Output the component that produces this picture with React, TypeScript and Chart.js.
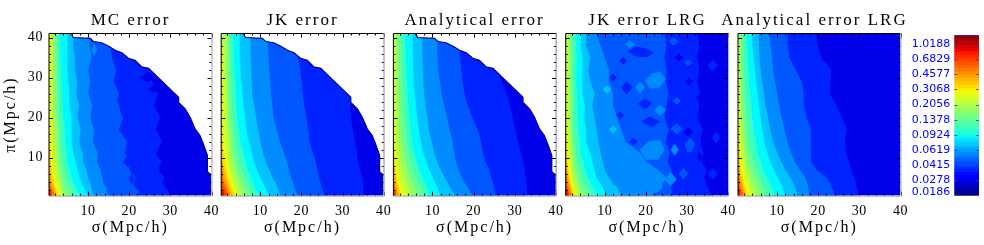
import React, { useEffect, useRef } from "react";
import { Chart, registerables } from "chart.js";

Chart.register(...registerables);

const PANEL_TITLES = ["MC error", "JK error", "Analytical error", "JK error LRG", "Analytical error LRG"];
const PANEL_LEFTS = [49, 221.2, 393.4, 565.7, 738];
const TITLE_SHIFTS = [0, 0, 0, 0, -5];
const PANEL_WIDTH = 162.5;
const TOP = 33.5;
const BOTTOM = 195.7;
const MAJOR_TICKS = [10, 20, 30, 40];
const MINOR_TICKS = [2, 4, 6, 8, 12, 14, 16, 18, 22, 24, 26, 28, 32, 34, 36, 38];

// pi samples (Mpc/h), bottom to top, shared by every contour row below
const PI = [0.5, 1.5, 2.5, 3.5, 5, 7, 9, 11, 14, 17, 20, 23, 26, 29, 32, 35, 38, 41];

const BASE_COLOR = "#0000eb";
const BAND_COLORS = [
  "#0022ff", "#0057ff", "#008cff", "#00c3ff", "#00f8ff", "#3affbd", "#66ff92", "#91ff66",
  "#bcff3a", "#e6ff10", "#ffd500", "#ffa300", "#ff7000", "#ff4000", "#f00e00", "#be0000",
];

// sigma of each contour at the pi samples, outermost level first
const MC_CONTOURS = [
  [30, 29.5, 29, 28, 28.5, 27, 27.8, 26.5, 28, 26.5, 27.5, 26, 27, 25.5, 26, 24.5, 25.5, 25],
  [22, 22.5, 21.5, 21, 21.5, 20, 20.5, 19, 19.5, 17.5, 18.5, 16.8, 17.5, 16.2, 16.8, 15.8, 15.5, 15.5],
  [15, 14.5, 14.5, 13.8, 13.5, 13, 12.2, 12.4, 11.2, 11.5, 10.5, 11, 10, 10.5, 10, 10.8, 10.3, 10.5],
  [11.5, 11.2, 10.8, 10.6, 10, 9.6, 8.8, 8.7, 7.8, 8.2, 7.4, 7.8, 7.1, 7.4, 6.8, 6.8, 6.4, 6.6],
  [10, 9.5, 9, 8.5, 8, 7.5, 7, 6.5, 6, 6, 6, 5.5, 5.5, 5.2, 5, 5, 5, 5],
  [8, 7.5, 7, 6.5, 6, 5.5, 5, 4.8, 4.5, 4.3, 4, 3.8, 3.7, 3.5, 3.5, 3.3, 3.2, 3.2],
  [6.5, 6, 5.5, 5, 4.6, 4.2, 3.8, 3.6, 3.3, 3.2, 3, 2.9, 2.8, 2.6, 2.6, 2.5, 2.5, 2.4],
  [5.2, 4.7, 4.3, 4, 3.6, 3.3, 3, 2.8, 2.6, 2.5, 2.3, 2.2, 2.2, 2.1, 2, 2, 1.9, 1.9],
  [4.2, 3.8, 3.4, 3.2, 2.9, 2.6, 2.4, 2.2, 2, 1.9, 1.8, 1.7, 1.6, 1.6, 1.5, 1.5, 1.5, 1.4],
  [3.5, 3.1, 2.8, 2.5, 2.2, 1.9, 1.7, 1.6, 1.4, 1.3, 1.2, 1.2, 1.1, 1.1, 1, 1, 1, 1],
  [2.9, 2.6, 2.2, 1.9, 1.6, 1.2, 1, 0.9, 0.7, 0.6],
  [2.4, 2.1, 1.7, 1.3, 1, 0.7, 0.6],
  [1.9, 1.6, 1.2, 0.8, 0.6],
  [1.5, 1.1, 0.7, 0.6],
  [1.1, 0.7, 0.6],
  [0.8, 0.6],
];

const JK_CONTOURS = [
  [35.4, 35.2, 35, 35, 34.8, 34.2, 33.8, 33.5, 33, 32.5, 32, 31.8, 32, 34, 34, 34, 34, 34],
  [25.7, 25.3, 25, 24.7, 24.3, 23.9, 23.5, 22.8, 22, 21.7, 21.2, 20.7, 20.3, 20, 19.7, 19.2, 19, 19],
  [19.2, 18.8, 18.4, 18, 17.5, 17, 16.5, 15.8, 14.8, 14, 13.2, 12.9, 12.6, 12.4, 12.2, 12, 11.9, 11.8],
  [15, 14.6, 14.2, 13.8, 13, 12.2, 11.3, 10.7, 10, 9.5, 9, 8.5, 8, 7.9, 7.8, 7.7, 7.6, 7.6],
  [12.2, 11.7, 11.2, 10.8, 10, 9.2, 8.5, 8, 7.2, 6.6, 6.3, 6, 5.7, 5.4, 5.2, 5.1, 5, 5],
  [9.7, 9.2, 8.7, 8.3, 7.7, 6.9, 6.4, 5.9, 5.2, 4.8, 4.4, 4.2, 4, 3.9, 3.7, 3.6, 3.5, 3.4],
  [8.2, 7.8, 7.3, 6.9, 6.2, 5.5, 4.9, 4.4, 4, 3.6, 3.3, 3.1, 3, 2.9, 2.8, 2.7, 2.6, 2.6],
  [6.8, 6.4, 6, 5.6, 5, 4.3, 3.8, 3.5, 3.1, 2.8, 2.6, 2.5, 2.3, 2.2, 2.1, 2.1, 2, 2],
  [5.5, 5.2, 4.8, 4.4, 3.8, 3.3, 2.9, 2.6, 2.3, 2.1, 2, 1.9, 1.8, 1.7, 1.6, 1.5, 1.5, 1.5],
  [4.7, 4.3, 3.9, 3.5, 3, 2.5, 2.2, 1.9, 1.6, 1.4, 1.3, 1.2, 1.1, 1.1, 1, 1, 1],
  [3.9, 3.5, 3.1, 2.7, 2.2, 1.8, 1.4, 1.1, 0.8, 0.7, 0.6],
  [3.2, 2.8, 2.4, 2, 1.6, 1.2, 0.8, 0.6],
  [2.6, 2.2, 1.8, 1.4, 1, 0.7],
  [2, 1.7, 1.3, 0.9, 0.6],
  [1.4, 1.1, 0.7],
  [1, 0.7],
];

const AN_CONTOURS = [
  [33, 33, 33, 32.8, 32.6, 32.4, 32, 31.5, 30.8, 30.1, 29.5, 28.9, 28, 26.8, 25.5, 34, 34, 34],
  [25.4, 25.2, 25, 24.8, 24.3, 23.8, 22.9, 22.3, 21.8, 21, 19.7, 18.6, 17.8, 17.2, 17, 16.7, 16.5, 16.5],
  [19.6, 19.2, 18.6, 18, 17.2, 16.3, 15.7, 15.3, 14.9, 14.2, 13.5, 12.8, 12.2, 11.8, 11.4, 11.2, 11.2, 11.2],
  [15.5, 14.9, 14.3, 13.8, 13, 12, 11.1, 10.5, 9.8, 9.1, 8.7, 8.3, 8, 7.8, 7.7, 7.6, 7.5, 7.5],
  [12, 11.6, 11.2, 10.8, 10.1, 9.2, 8.5, 7.8, 7.2, 6.7, 6.3, 6, 5.7, 5.5, 5.4, 5.3, 5.2, 5.2],
  [9.5, 9.1, 8.7, 8.3, 7.6, 6.8, 6.2, 5.6, 5, 4.7, 4.4, 4.2, 4, 3.8, 3.7, 3.5, 3.4, 3.3],
  [8, 7.6, 7.2, 6.8, 6.1, 5.4, 4.8, 4.3, 3.8, 3.5, 3.2, 3, 2.9, 2.7, 2.6, 2.5, 2.5, 2.4],
  [6.5, 6.1, 5.7, 5.3, 4.6, 4, 3.5, 3.1, 2.7, 2.4, 2.2, 2.1, 2, 1.9, 1.8, 1.7, 1.7, 1.6],
  [5, 4.6, 4.2, 3.8, 3.3, 2.8, 2.4, 2.1, 1.8, 1.6, 1.5, 1.4, 1.3, 1.3, 1.2, 1.2, 1.1, 1.1],
  [3.6, 3.2, 2.8, 2.5, 2.1, 1.7, 1.5, 1.3, 1.1, 0.95, 0.85, 0.8, 0.75, 0.7, 0.7, 0.6, 0.6],
  [2.6, 2.2, 1.9, 1.6, 1.3, 1.1, 0.9, 0.7, 0.6],
  [1.9, 1.6, 1.4, 1.2, 1, 0.8, 0.6],
  [1.4, 1.2, 1, 0.8, 0.6],
  [1, 0.9, 0.7, 0.6],
  [0.8, 0.7, 0.6],
];

const JK_LRG_CONTOURS = [
  [36, 35.5, 35, 34.7, 34.2, 34.8, 33.5, 34, 33.2, 33.8, 32.5, 33, 33.2, 32.5, 33, 32.5, 33, 32.5],
  [26, 26.5, 26, 26.3, 25.5, 26.3, 25.2, 25.8, 24.8, 25.5, 24.5, 25, 25.5, 24.8, 25, 24.5, 25, 24.5],
  [21, 23, 24, 24, 25, 23, 20, 19, 15, 14, 13, 12, 12, 11, 11, 10, 9, 8],
  [14, 13.5, 13, 12, 11, 10, 9.5, 9, 8.5, 8, 7.5, 7, 7.5, 6.5, 6, 6.5, 5.5, 5.5],
  [10.2, 10, 9.5, 9, 8, 7.5, 7, 6.5, 5.5, 5.5, 5, 5.2, 4.5, 4.6, 4.5, 4.6, 4.2, 4.2],
  [8, 7.8, 7.2, 6.6, 6, 5.2, 4.8, 4.2, 4, 3.6, 3.4, 3.2, 3.4, 3, 3.1, 3.2, 3, 3],
  [6.5, 6.2, 5.5, 5, 4.5, 3.8, 3.4, 3, 2.8, 2.6, 2.5, 2.4, 2.4, 2.3, 2.2, 2.3, 2.2, 2.2],
  [5.2, 4.8, 4.2, 3.8, 3.4, 2.9, 2.6, 2.4, 2.2, 2, 1.9, 1.8, 1.8, 1.7, 1.7, 1.7, 1.6, 1.6],
  [4.2, 3.8, 3.3, 3, 2.6, 2.3, 2, 1.8, 1.6, 1.5, 1.4, 1.3, 1.3, 1.2, 1.2, 1.2, 1.1, 1.1],
  [3.5, 3.1, 2.6, 2.3, 2, 1.7, 1.5, 1.3, 1.1, 1, 0.95, 0.9, 0.85, 0.8, 0.8, 0.7, 0.7],
  [2.8, 2.5, 2.1, 1.8, 1.5, 1.2, 1, 0.9, 0.7, 0.6],
  [2.3, 2, 1.7, 1.4, 1.1, 0.9, 0.7],
  [1.9, 1.6, 1.3, 1, 0.8, 0.6],
  [1.5, 1.2, 0.9, 0.7],
  [1.1, 0.9, 0.6],
  [0.8, 0.6],
];

const AN_LRG_CONTOURS = [
  [29.7, 29.6, 29.4, 29.2, 28.8, 28, 27.5, 26.8, 26.5, 27, 25.7, 24.5, 22.8, 23, 23.2, 20.7, 19.9, 19.5],
  [24, 23.8, 23.3, 23, 22, 19.5, 18.3, 18.2, 18.2, 18.2, 17.2, 16.5, 16.5, 16, 14.5, 13, 12.6, 12.5],
  [17.8, 17.7, 17.5, 17.4, 16.8, 15.5, 14.3, 13.5, 12.5, 11.8, 11.1, 10.5, 10, 9.5, 9, 8.8, 8.4, 8.2],
  [15, 14.8, 14.4, 14, 13.2, 12, 11, 10.2, 9, 8.3, 7.8, 7.2, 6.8, 6.4, 6, 5.8, 5.6, 5.5],
  [12, 11.7, 11.3, 10.9, 10.2, 9.2, 8.4, 7.7, 6.9, 6.4, 6, 5.6, 5.3, 4.9, 4.6, 4.3, 4, 3.9],
  [9.2, 9, 8.6, 8.2, 7.5, 6.6, 6, 5.4, 4.8, 4.3, 4, 3.7, 3.4, 3.2, 3, 2.8, 2.7, 2.6],
  [7.5, 7.2, 6.8, 6.4, 5.7, 4.9, 4.3, 3.8, 3.3, 2.9, 2.7, 2.4, 2.2, 2.1, 2, 1.9, 1.8, 1.7],
  [6.1, 5.8, 5.4, 5, 4.4, 3.7, 3.2, 2.8, 2.4, 2.1, 1.9, 1.7, 1.6, 1.5, 1.4, 1.3, 1.3, 1.2],
  [4.9, 4.6, 4.2, 3.8, 3.3, 2.7, 2.3, 2, 1.7, 1.5, 1.3, 1.2, 1.1, 1, 0.95, 0.9, 0.9, 0.85],
  [3.9, 3.6, 3.2, 2.8, 2.4, 1.9, 1.6, 1.4, 1.2, 1, 0.9, 0.8, 0.75, 0.7, 0.65, 0.6],
  [3, 2.7, 2.4, 2, 1.7, 1.3, 1, 0.85, 0.7, 0.6],
  [2.4, 2.1, 1.8, 1.5, 1.2, 0.9, 0.7],
  [1.9, 1.6, 1.3, 1.1, 0.8, 0.6],
  [1.4, 1.2, 0.9, 0.7],
  [1, 0.8, 0.6],
  [0.7],
];

// isolated contour islands: band index (-1 = base colour), then sigma,pi pairs
const MC_ISLANDS = [
  [-1, 22.5, 30, 24.5, 31.5, 26.5, 30.2, 24.5, 28.8],
  [-1, 24.5, 27.1, 26, 28, 27.5, 27, 26, 26.2],
  [0, 18.5, 9, 19.4, 10.5, 20.8, 9, 19.8, 7.5],
  [0, 20, 4.8, 20.6, 6.3, 21.2, 4.8, 20.6, 3.3],
  [2, 10.8, 37, 11.5, 38.5, 12.2, 37, 11.5, 35.5],
  [1, 15.5, 25, 17.5, 23.5, 18, 21, 16.5, 19.5],
];
const JK_LRG_ISLANDS = [
  [2, 19.8, 29.2, 21.5, 31, 23.5, 31.5, 24.8, 29.5, 23.3, 27.5, 21, 27.2],
  [2, 22, 21.8, 23.4, 23.2, 24.8, 22, 23.6, 20.4],
  [2, 18.5, 12, 20.5, 14, 23.5, 14.5, 24.5, 12, 23, 9.5, 20, 9.5],
  [2, 15, 38.3, 16.1, 39.3, 17.3, 38.3, 16.1, 37.3],
  [2, 17.4, 27.5, 18.6, 29, 19.8, 27.5, 18.6, 26],
  [2, 24.5, 4.5, 26, 6.5, 27.5, 4.5, 26, 3],
  [2, 26, 12, 27, 13.5, 28, 12, 27, 10.5],
  [3, 11, 17, 12, 18, 13, 17, 12, 16],
  [3, 9.5, 27, 10.5, 28, 11.5, 27, 10.5, 26],
  [0, 15.5, 36.5, 17.5, 37.7, 20, 37.3, 22, 36.2, 20.2, 35, 17.5, 35.3],
  [0, 14, 27.5, 15.3, 29.2, 16.8, 27.5, 15.3, 25.8],
  [0, 18, 23.5, 19.8, 24.8, 21.5, 23.5, 19.8, 22],
  [0, 18.8, 19, 21, 20.3, 23.5, 19, 21.5, 17.6],
  [0, 13.5, 34.2, 14.5, 35.2, 15.5, 34.2, 14.5, 33.2],
  [0, 12.8, 20.5, 13.7, 21.5, 14.6, 20.5, 13.7, 19.5],
  [0, 16, 14, 17, 15, 18, 14, 17, 13],
  [0, 11, 30, 12, 31, 13, 30, 12, 29],
  [0, 35, 33, 36.3, 34.5, 37.5, 33, 36.2, 31.5],
  [0, 36, 15, 37, 16.5, 38, 15, 37, 13.5],
  [0, 35, 6, 36.2, 7.5, 37.5, 6, 36.2, 4.5],
  [-1, 32, 25, 34, 26.8, 36.5, 25.5, 35.5, 23.5, 33, 23.5],
  [-1, 29, 16.4, 30.3, 17.6, 31.6, 16.4, 30.3, 15.2],
  [-1, 32.4, 10.2, 33.1, 11.4, 33.8, 10.2, 33.1, 9],
  [-1, 29.5, 29, 30.5, 30, 31.5, 29, 30.5, 28],
  [-1, 27, 35, 28, 36, 29, 35, 28, 34],
  [1, 25.5, 39, 26.7, 40, 28, 39, 26.7, 38],
  [1, 29.3, 33.7, 30.3, 34.5, 31.3, 33.7, 30.3, 32.9],
  [1, 29.5, 13.5, 30.7, 15, 32, 13.5, 31.2, 11.5, 30, 11.5],
  [1, 26, 17.2, 27.5, 18.5, 29, 17.2, 27.5, 15.8],
  [1, 26.5, 24.2, 27.5, 25.2, 28.5, 24.2, 27.5, 23.2],
  [1, 28, 6, 29.1, 7.5, 30.2, 6, 29.1, 4.5],
];
const NO_ISLANDS: number[][] = [];

// edge of the covered pair region (upper right stays white)
const EDGE_SIGMA = [5.9, 6.4, 10.5, 11.3, 13.3, 14.9, 16.6, 18.2, 19.8, 21.4, 23, 24.7, 32, 32, 33.6, 34.8, 36, 37.2, 38, 39, 39, 40];
const EDGE_PI = [41, 40, 39.8, 39, 38.7, 37.9, 36.8, 36.2, 34.8, 34.3, 32.7, 32.3, 25.1, 23.8, 22.2, 20.1, 17.2, 15.5, 13.5, 10.6, 6.5, 5.6];

const PANEL_CONTOURS = [MC_CONTOURS, JK_CONTOURS, AN_CONTOURS, JK_LRG_CONTOURS, AN_LRG_CONTOURS];
const PANEL_ISLANDS = [MC_ISLANDS, NO_ISLANDS, NO_ISLANDS, JK_LRG_ISLANDS, NO_ISLANDS];
const PANEL_HAS_EDGE = [true, true, true, false, false];

// colour bar
const BAR_EDGES = [
  0.0186, 0.0203, 0.0222, 0.0243, 0.0265, 0.0289, 0.0316, 0.0345, 0.0377, 0.0412, 0.045, 0.0491, 0.0537, 0.0586,
  0.064, 0.0699, 0.0764, 0.0834, 0.0911, 0.0995, 0.1087, 0.1187, 0.1297, 0.1416, 0.1547, 0.169, 0.1846, 0.2016,
  0.2202, 0.2405, 0.2627, 0.2869, 0.3134, 0.3423, 0.3739, 0.4084, 0.4461, 0.4872, 0.5322, 0.5813, 0.6349, 0.6935,
  0.7575, 0.8274, 0.9037, 0.9871, 1.0781, 1.1776, 1.2863,
];
const BAR_LABELS = ["1.0188", "0.6829", "0.4577", "0.3068", "0.2056", "0.1378", "0.0924", "0.0619", "0.0415", "0.0278", "0.0186"];
const BAR_LABEL_POSITIONS = [1.0188, 0.6829, 0.4577, 0.3068, 0.2056, 0.1378, 0.0924, 0.0619, 0.0415, 0.0278, 0.0204];
const BAR_TICKS = [1.0188, 0.6829, 0.4577, 0.3068, 0.2056, 0.1378, 0.0924, 0.0619, 0.0415, 0.0278];

const SERIF = "'Liberation Serif', serif";

function jet(t: number): string {
  const clamp = (v: number) => Math.max(0, Math.min(1, v));
  const r = t < 0.89 ? clamp((t - 0.35) / 0.31) : 1 - ((t - 0.89) / 0.11) * 0.5;
  const g = t < 0.64 ? clamp((t - 0.125) / 0.25) : clamp((0.91 - t) / 0.27);
  const b = t < 0.11 ? 0.5 + (t / 0.11) * 0.5 : clamp((0.65 - t) / 0.31);
  return `rgb(${Math.round(r * 255)},${Math.round(g * 255)},${Math.round(b * 255)})`;
}

function contourPoints(row: number[]) {
  const pts = [{ x: 0.5, y: PI[row.length - 1] }];
  for (let i = row.length - 1; i >= 0; i--) pts.push({ x: row[i], y: PI[i] });
  pts.push({ x: 40, y: 0.5 });
  return pts;
}

function islandPoints(island: number[]) {
  const pts = [];
  for (let i = 1; i < island.length; i += 2) pts.push({ x: island[i], y: island[i + 1] });
  return pts;
}

const textSpacing = {
  id: "textSpacing",
  beforeDraw(chart: any) {
    chart.ctx.letterSpacing = "2px";
  },
  afterDatasetsDraw(chart: any) {
    chart.ctx.letterSpacing = "0.6px";
  },
};

const frameTicks = {
  id: "frameTicks",
  afterDraw(chart: any) {
    const { ctx, chartArea: a, scales } = chart;
    const { x, y } = scales;
    ctx.save();
    ctx.lineWidth = 1;
    ctx.strokeStyle = "#000";
    const tick = (list: number[], len: number) => {
      for (const v of list) {
        const px = Math.round(x.getPixelForValue(v)) + 0.5;
        ctx.beginPath();
        ctx.moveTo(px, a.bottom);
        ctx.lineTo(px, a.bottom - len);
        ctx.moveTo(px, a.top);
        ctx.lineTo(px, a.top + len);
        ctx.stroke();
        const py = Math.round(y.getPixelForValue(v)) + 0.5;
        ctx.beginPath();
        ctx.moveTo(a.left, py);
        ctx.lineTo(a.left + len, py);
        ctx.moveTo(a.right, py);
        ctx.lineTo(a.right - len, py);
        ctx.stroke();
      }
    };
    tick(MINOR_TICKS, 2);
    tick(MAJOR_TICKS, 4);
    ctx.strokeStyle = "#a8a8a8";
    ctx.beginPath();
    ctx.moveTo(a.left, a.bottom + 0.5);
    ctx.lineTo(a.right, a.bottom + 0.5);
    ctx.moveTo(a.right + 0.5, a.top);
    ctx.lineTo(a.right + 0.5, a.bottom);
    ctx.stroke();
    ctx.strokeStyle = "#000";
    ctx.beginPath();
    ctx.moveTo(a.left, a.bottom);
    ctx.lineTo(a.left, a.top);
    ctx.lineTo(a.right, a.top);
    ctx.stroke();
    ctx.restore();
  },
};

const barTicks = {
  id: "barTicks",
  afterDraw(chart: any) {
    const { ctx, chartArea: a, scales } = chart;
    ctx.save();
    ctx.strokeStyle = "rgba(40,40,255,0.8)";
    ctx.lineWidth = 1;
    for (const v of BAR_TICKS) {
      const py = Math.round(scales.y.getPixelForValue(v)) + 0.5;
      ctx.beginPath();
      ctx.moveTo(a.left, py);
      ctx.lineTo(a.left + 3, py);
      ctx.moveTo(a.right, py);
      ctx.lineTo(a.right - 3, py);
      ctx.stroke();
    }
    ctx.beginPath();
    ctx.moveTo(a.left, a.top + 0.5);
    ctx.lineTo(a.right, a.top + 0.5);
    ctx.stroke();
    ctx.restore();
  },
};

function Panel({ index }: { index: number }) {
  const ref = useRef<HTMLCanvasElement>(null);
  const canvasLeft = Math.round(PANEL_LEFTS[index]) - 48 + TITLE_SHIFTS[index];
  const leftSize = PANEL_LEFTS[index] - canvasLeft;
  const width = 259;
  useEffect(() => {
    const bands = PANEL_CONTOURS[index];
    const datasets: any[] = [];
    const common = { showLine: true, pointRadius: 0, borderWidth: 0, fill: "start", tension: 0 };
    if (PANEL_HAS_EDGE[index]) {
      datasets.push({
        ...common,
        data: EDGE_SIGMA.map((s, i) => ({ x: s, y: EDGE_PI[i] })),
        fill: "end",
        backgroundColor: "#ffffff",
        borderWidth: 1.2,
        borderColor: "#000090",
      });
    }
    for (const island of PANEL_ISLANDS[index]) {
      datasets.push({
        ...common,
        fill: "shape",
        data: islandPoints(island),
        backgroundColor: island[0] < 0 ? BASE_COLOR : BAND_COLORS[island[0]],
      });
    }
    for (let k = bands.length - 1; k >= 0; k--) {
      datasets.push({ ...common, data: contourPoints(bands[k]), backgroundColor: BAND_COLORS[k] });
    }
    datasets.push({
      ...common,
      data: [{ x: 0.5, y: 41 }, { x: 40, y: 41 }, { x: 40, y: 0.5 }],
      backgroundColor: BASE_COLOR,
    });
    const chart = new Chart(ref.current!, {
      type: "scatter",
      data: { datasets },
      plugins: [textSpacing, frameTicks],
      options: {
        animation: false,
        responsive: false,
        events: [],
        layout: { padding: 0 },
        plugins: {
          legend: { display: false },
          tooltip: { enabled: false },
          title: {
            display: true,
            text: PANEL_TITLES[index],
            color: "#000",
            font: { family: SERIF, size: 17, weight: "normal", lineHeight: 1.2 },
            padding: { top: 10, bottom: TOP - 10 - 20.4 },
          },
        },
        scales: {
          x: {
            type: "linear",
            min: 0.5,
            max: 40,
            grid: { display: false, drawTicks: false },
            border: { display: false, z: 1 },
            afterBuildTicks: (s: any) => { s.ticks = MAJOR_TICKS.map((value) => ({ value })); },
            afterFit: (s: any) => { s.height = 245 - BOTTOM; },
            ticks: { z: 1, color: "#000", padding: 7, maxRotation: 0, autoSkip: false, font: { family: SERIF, size: 14 } },
            title: {
              display: true,
              text: "σ(Mpc/h)",
              color: "#000",
              font: { family: SERIF, size: 16 },
              padding: { top: 0, bottom: 8 },
            },
          },
          y: {
            type: "linear",
            min: 0.5,
            max: 41,
            grid: { display: false, drawTicks: false },
            border: { display: false, z: 1 },
            afterBuildTicks: (s: any) => { s.ticks = MAJOR_TICKS.map((value) => ({ value })); },
            afterFit: (s: any) => { s.width = leftSize; },
            ticks: { z: 1, display: index === 0, color: "#000", padding: 6, autoSkip: false, font: { family: SERIF, size: 14 } },
            title: {
              display: index === 0,
              text: "π(Mpc/h)",
              color: "#000",
              font: { family: SERIF, size: 16 },
              padding: { top: 0, bottom: 3 },
            },
          },
          spacer: {
            type: "linear",
            position: "right",
            grid: { display: false, drawTicks: false },
            border: { display: false },
            ticks: { display: false },
            afterFit: (s: any) => { s.width = width - leftSize - PANEL_WIDTH; },
          },
        },
      },
    } as any);
    return () => chart.destroy();
  }, [index]);
  return (
    <canvas
      ref={ref}
      width={width}
      height={245}
      style={{ position: "absolute", left: canvasLeft, top: 0, width, height: 245 }}
    />
  );
}

function ColorBar() {
  const ref = useRef<HTMLCanvasElement>(null);
  useEffect(() => {
    const count = BAR_EDGES.length - 1;
    const datasets = BAR_EDGES.slice(0, -1).map((lo, i) => ({
      data: [[lo, BAR_EDGES[i + 1]]],
      backgroundColor: jet((i + 0.5) / count),
      barPercentage: 1,
      categoryPercentage: 1,
    }));
    const chart = new Chart(ref.current!, {
      type: "bar",
      data: { labels: ["level"], datasets },
      plugins: [barTicks],
      options: {
        animation: false,
        responsive: false,
        events: [],
        layout: { padding: { top: 35, right: 5, left: 0, bottom: 245 - BOTTOM } },
        plugins: { legend: { display: false }, tooltip: { enabled: false } },
        scales: {
          x: { display: false, stacked: true },
          y: {
            type: "logarithmic",
            min: 0.0186,
            max: 1.2863,
            grid: { display: false, drawTicks: false },
            border: { display: false },
            afterBuildTicks: (s: any) => { s.ticks = BAR_LABEL_POSITIONS.map((value) => ({ value })); },
            afterFit: (s: any) => { s.width = 54.3; },
            ticks: {
              color: "#0000ff",
              padding: 4,
              autoSkip: false,
              font: { family: "'DejaVu Sans', sans-serif", size: 11 },
              callback: (_v: any, i: number) => BAR_LABELS[i],
            },
          },
        },
      },
    } as any);
    return () => chart.destroy();
  }, []);
  return (
    <canvas
      ref={ref}
      width={84}
      height={245}
      style={{ position: "absolute", left: 900, top: 0, width: 84, height: 245 }}
    />
  );
}

export default function App() {
  return (
    <div style={{ position: "absolute", left: 0, top: 0, width: 984, height: 245, overflow: "hidden", background: "#fff" }}>
      {PANEL_TITLES.map((_, i) => (
        <Panel key={i} index={i} />
      ))}
      <ColorBar />
    </div>
  );
}
